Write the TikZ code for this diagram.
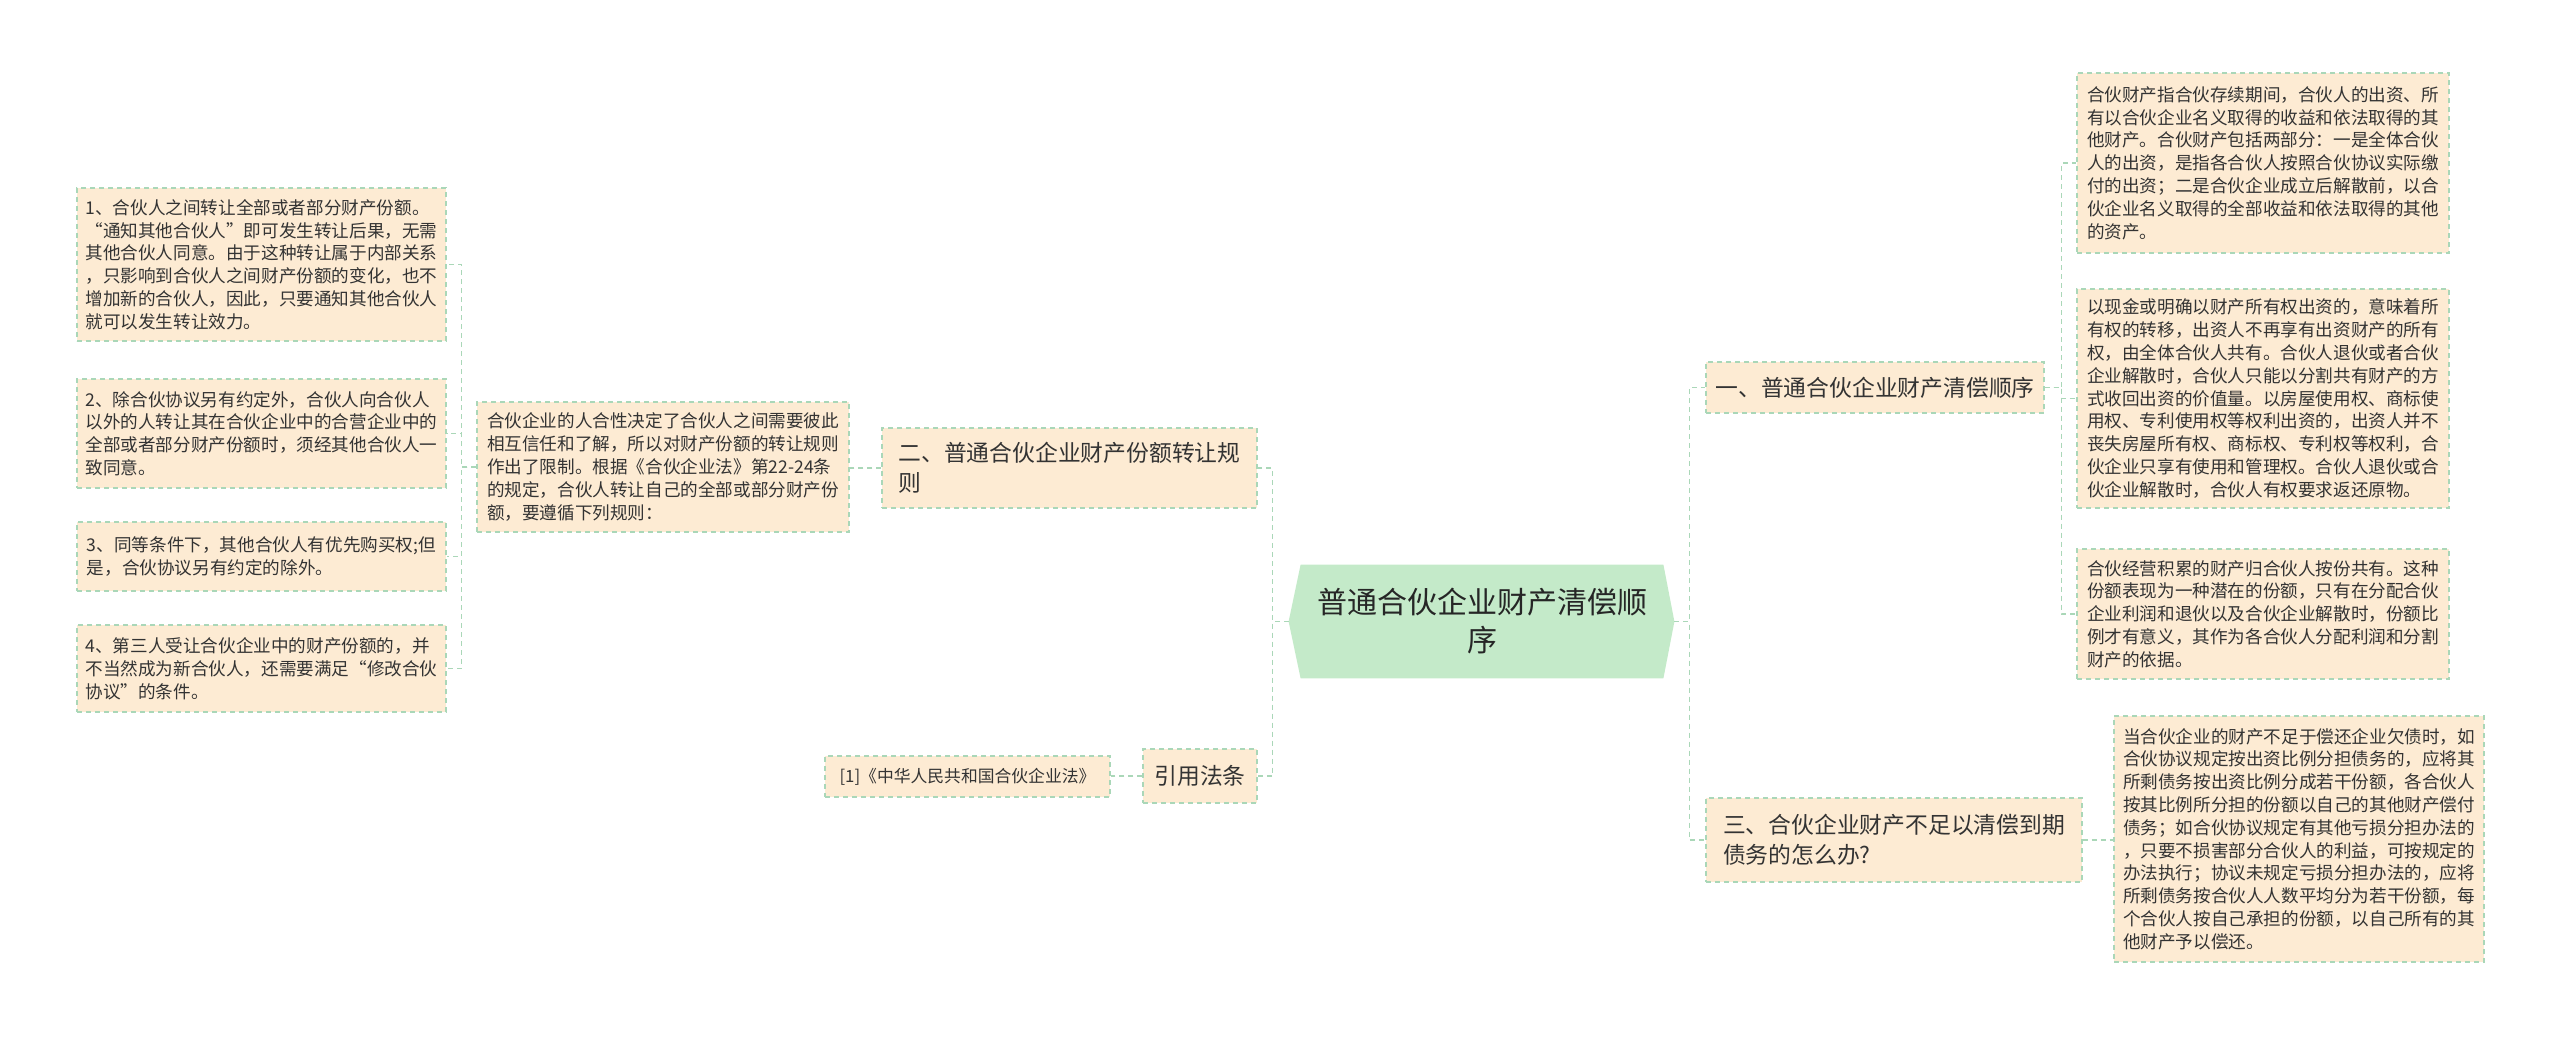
\documentclass[tikz,border=0pt]{standalone}
\usepackage{fontspec}
\setmainfont{Noto Sans CJK SC}
\usetikzlibrary{calc,backgrounds}
\definecolor{leafc}{RGB}{253,235,211}
\definecolor{edgec}{RGB}{170,215,184}
\definecolor{cfill}{RGB}{196,234,201}
\definecolor{txt}{RGB}{51,51,51}
\tikzset{
  box/.style={draw=edgec, dash pattern=on 2.5pt off 2pt, line width=0.7pt, fill=leafc, text=txt, inner sep=0pt, align=left},
  leafbox/.style={box, font=\fontsize{8.8}{11.4}\selectfont},
  lvlbox/.style={box, font=\fontsize{11.4}{15}\selectfont},
  conn/.style={draw=edgec, line width=0.7pt, dash pattern=on 2.5pt off 2pt},
}
\begin{document}
\begin{tikzpicture}[x=0.5pt,y=-0.5pt]
\useasboundingbox (0,0) rectangle (2560,1038);

% center
\node[font=\fontsize{15}{19}\selectfont, text=black!85, align=center, inner sep=0pt,
      minimum width=362*.5pt, minimum height=113*.5pt] (c) at (1482,621.5) {普通合伙企业财产清偿顺\\序};
\coordinate (cl) at ($(c.west)+(-12,0)$);
\coordinate (cr) at ($(c.east)+(11,0)$);
\begin{scope}[on background layer]
\fill[cfill] (c.north west) -- (c.north east) -- (cr) -- (c.south east) -- (c.south west) -- (cl) -- cycle;
\end{scope}

% level 1 left
\node[lvlbox, minimum width=375*.5pt, minimum height=80*.5pt] (n2) at (1069.5,468) {二、普通合伙企业财产份额转让规\\则};
\node[lvlbox, minimum width=114*.5pt, minimum height=54*.5pt] (law) at (1200,776) {引用法条};

% level 1 right
\node[lvlbox, minimum width=338*.5pt, minimum height=51*.5pt] (n1) at (1875,387.5) {一、普通合伙企业财产清偿顺序};
\node[lvlbox, minimum width=376*.5pt, minimum height=84*.5pt] (n3) at (1894,840) {三、合伙企业财产不足以清偿到期\\债务的怎么办?};

% level 2 left
\node[leafbox, minimum width=372*.5pt, minimum height=130*.5pt] (p) at (663,467) {合伙企业的人合性决定了合伙人之间需要彼此\\相互信任和了解，所以对财产份额的转让规则\\作出了限制。根据《合伙企业法》第22-24条\\的规定，合伙人转让自己的全部或部分财产份\\额，要遵循下列规则：};
\node[leafbox, font=\fontsize{8.4}{11}\selectfont, minimum width=285*.5pt, minimum height=41*.5pt] (ref) at (967.5,776.5) {[1]《中华人民共和国合伙企业法》};

% level 3 left
\node[leafbox, minimum width=369*.5pt, minimum height=153*.5pt] (b1) at (261.5,264.5) {1、合伙人之间转让全部或者部分财产份额。\\“通知其他合伙人”即可发生转让后果，无需\\其他合伙人同意。由于这种转让属于内部关系\\，只影响到合伙人之间财产份额的变化，也不\\增加新的合伙人，因此，只要通知其他合伙人\\就可以发生转让效力。};
\node[leafbox, minimum width=369*.5pt, minimum height=109*.5pt] (b2) at (261.5,433.5) {2、除合伙协议另有约定外，合伙人向合伙人\\以外的人转让其在合伙企业中的合营企业中的\\全部或者部分财产份额时，须经其他合伙人一\\致同意。};
\node[leafbox, minimum width=369*.5pt, minimum height=69*.5pt] (b3) at (261.5,556.5) {3、同等条件下，其他合伙人有优先购买权;但\\是，合伙协议另有约定的除外。};
\node[leafbox, minimum width=369*.5pt, minimum height=87*.5pt] (b4) at (261.5,668.5) {4、第三人受让合伙企业中的财产份额的，并\\不当然成为新合伙人，还需要满足“修改合伙\\协议”的条件。};

% level 2 right
\node[leafbox, minimum width=372*.5pt, minimum height=180*.5pt] (r1) at (2263,163) {合伙财产指合伙存续期间，合伙人的出资、所\\有以合伙企业名义取得的收益和依法取得的其\\他财产。合伙财产包括两部分：一是全体合伙\\人的出资，是指各合伙人按照合伙协议实际缴\\付的出资；二是合伙企业成立后解散前，以合\\伙企业名义取得的全部收益和依法取得的其他\\的资产。};
\node[leafbox, minimum width=372*.5pt, minimum height=219*.5pt] (r2) at (2263,398.5) {以现金或明确以财产所有权出资的，意味着所\\有权的转移，出资人不再享有出资财产的所有\\权，由全体合伙人共有。合伙人退伙或者合伙\\企业解散时，合伙人只能以分割共有财产的方\\式收回出资的价值量。以房屋使用权、商标使\\用权、专利使用权等权利出资的，出资人并不\\丧失房屋所有权、商标权、专利权等权利，合\\伙企业只享有使用和管理权。合伙人退伙或合\\伙企业解散时，合伙人有权要求返还原物。};
\node[leafbox, minimum width=372*.5pt, minimum height=130*.5pt] (r3) at (2263,614) {合伙经营积累的财产归合伙人按份共有。这种\\份额表现为一种潜在的份额，只有在分配合伙\\企业利润和退伙以及合伙企业解散时，份额比\\例才有意义，其作为各合伙人分配利润和分割\\财产的依据。};
\node[leafbox, minimum width=370*.5pt, minimum height=246*.5pt] (r4) at (2299,839) {当合伙企业的财产不足于偿还企业欠债时，如\\合伙协议规定按出资比例分担债务的，应将其\\所剩债务按出资比例分成若干份额，各合伙人\\按其比例所分担的份额以自己的其他财产偿付\\债务；如合伙协议规定有其他亏损分担办法的\\，只要不损害部分合伙人的利益，可按规定的\\办法执行；协议未规定亏损分担办法的，应将\\所剩债务按合伙人人数平均分为若干份额，每\\个合伙人按自己承担的份额，以自己所有的其\\他财产予以偿还。};

% connectors
\draw[conn] (cl) -- ++(-16,0) |- (n2.east);
\draw[conn] (cl) -- ++(-16,0) |- (law.east);
\draw[conn] (n2.west) -- (n2.west -| p.east);
\draw[conn] (law.west) -- (law.west -| ref.east);
\draw[conn] (p.west) -- ++(-15,0) |- (b1.east);
\draw[conn] (p.west) -- ++(-15,0) |- (b2.east);
\draw[conn] (p.west) -- ++(-15,0) |- (b3.east);
\draw[conn] (p.west) -- ++(-15,0) |- (b4.east);
\draw[conn] (cr) -- ++(15,0) |- (n1.west);
\draw[conn] (cr) -- ++(15,0) |- (n3.west);
\draw[conn] (n1.east) -- ++(17,0) |- (r1.west);
\draw[conn] (n1.east) -- ++(17,0) |- (r2.west);
\draw[conn] (n1.east) -- ++(17,0) |- (r3.west);
\draw[conn] (n3.east) -- (n3.east -| r4.west);
\end{tikzpicture}
\end{document}
